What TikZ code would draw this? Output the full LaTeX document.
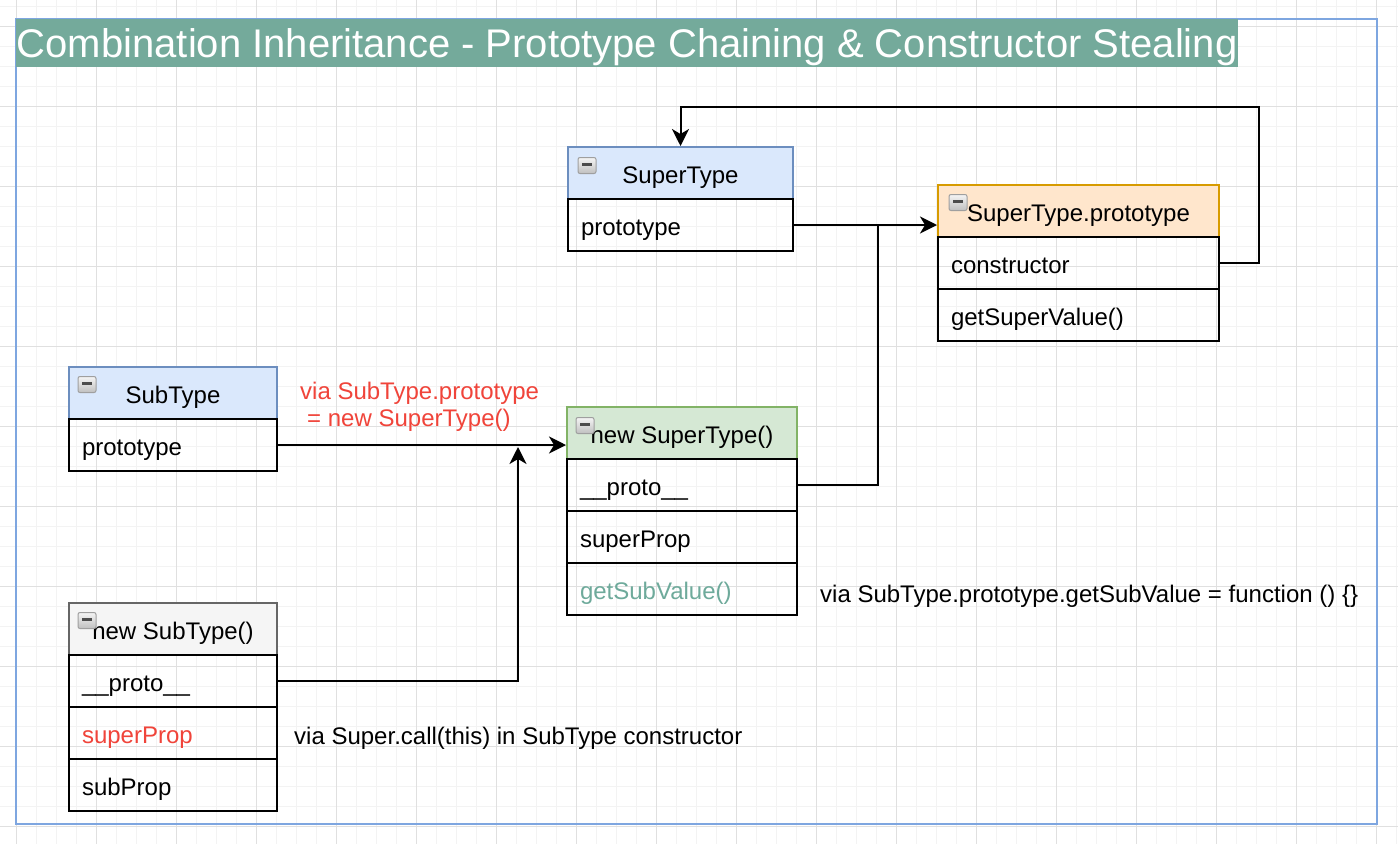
\documentclass[tikz,border=0pt]{standalone}
\usepackage{fontspec}
\setmainfont{Liberation Sans}
\usetikzlibrary{arrows.meta}
\definecolor{titlebg}{RGB}{116,170,155}
\definecolor{tealtxt}{RGB}{110,170,155}
\definecolor{redtxt}{RGB}{240,68,58}
\definecolor{frameblue}{RGB}{126,166,224}
\definecolor{gridminor}{RGB}{243,243,243}
\definecolor{gridmajor}{RGB}{224,224,224}
\definecolor{bluefill}{HTML}{DAE8FC}\definecolor{bluedraw}{HTML}{6C8EBF}
\definecolor{greenfill}{HTML}{D5E8D4}\definecolor{greendraw}{HTML}{82B366}
\definecolor{orangefill}{HTML}{FFE6CC}\definecolor{orangedraw}{HTML}{D79B00}
\definecolor{grayfill}{HTML}{F5F5F5}\definecolor{graydraw}{HTML}{666666}
\tikzset{
  base/.style={font=\fontsize{24}{28}\selectfont, text height=22pt, text depth=2pt},
  hdr/.style={base, rectangle, line width=2pt, minimum height=52pt, inner sep=0pt, align=center},
  rowbox/.style={base, rectangle, draw=black, line width=2pt, minimum height=52pt, inner xsep=13pt, inner ysep=0pt, align=left, text width=#1},
  icon/.style={rectangle, rounded corners=2pt, minimum width=18pt, minimum height=16pt, inner sep=0pt,
     draw=gray!75, line width=1pt, top color=gray!8, bottom color=gray!50,
     path picture={\draw[line width=3pt, black!70] ([xshift=-5pt,yshift=1pt]path picture bounding box.center) -- ([xshift=5pt,yshift=1pt]path picture bounding box.center);}},
  conn/.style={line width=2pt, draw=black},
  arr/.style={conn, -{Stealth[length=17pt,width=17pt,inset=5pt]}},
  lbl/.style={font=\fontsize{24}{27}\selectfont, inner sep=0pt}
}
\begin{document}
\begin{tikzpicture}[x=1pt,y=-1pt]
\useasboundingbox (0,0) rectangle (1398,844);
\fill[white] (0,0) rectangle (1398,844);
% grid
\foreach \x in {16,36,...,1396} \draw[gridminor, line width=1pt] (\x,0) -- (\x,844);
\foreach \y in {6,26,...,844} \draw[gridminor, line width=1pt] (0,\y) -- (1398,\y);
\foreach \x in {16,96,...,1396} \draw[gridmajor, line width=1pt] (\x,0) -- (\x,844);
\foreach \y in {26,106,...,844} \draw[gridmajor, line width=1pt] (0,\y) -- (1398,\y);
% frame
\draw[frameblue, line width=2pt] (16,19) rectangle (1377,824);
% title
\node[fill=titlebg, text=white, inner sep=0pt, minimum width=1222pt, minimum height=48pt,
      font=\fontsize{40}{48}\selectfont, text height=32pt, text depth=4pt, anchor=north west] (title) at (16,19)
  {Combination Inheritance - Prototype Chaining \& Constructor Stealing};

% SuperType
\node[hdr, fill=bluefill, draw=bluedraw, minimum width=225pt] (sth) at (680.5,173) {SuperType};
\node[rowbox=199pt] (stp) at (680.5,225) {prototype};
\node[icon] (sti) at (587,165.5) {};

% SuperType.prototype
\node[hdr, fill=orangefill, draw=orangedraw, minimum width=281pt] (sph) at (1078.5,211) {SuperType.prototype};
\node[rowbox=255pt] (spc) at (1078.5,263) {constructor};
\node[rowbox=255pt] (spg) at (1078.5,315) {getSuperValue()};
\node[icon] (spi) at (958,202.5) {};

% SubType
\node[hdr, fill=bluefill, draw=bluedraw, minimum width=208pt] (sbh) at (173,393) {SubType};
\node[rowbox=182pt] (sbp) at (173,445) {prototype};
\node[icon] (sbi) at (87,384.5) {};

% new SuperType()
\node[hdr, fill=greenfill, draw=greendraw, minimum width=230pt] (nsh) at (682,433) {new SuperType()};
\node[rowbox=204pt] (nsp) at (682,485) {\_\_proto\_\_};
\node[rowbox=204pt] (nss) at (682,537) {superProp};
\node[rowbox=204pt, text=tealtxt] (nsg) at (682,589) {getSubValue()};
\node[icon] (nsi) at (585,425.5) {};

% new SubType()
\node[hdr, fill=grayfill, draw=graydraw, minimum width=208pt] (nbh) at (173,629) {new SubType()};
\node[rowbox=182pt] (nbp) at (173,681) {\_\_proto\_\_};
\node[rowbox=182pt, text=redtxt] (nbs) at (173,733) {superProp};
\node[rowbox=182pt] (nbu) at (173,785) {subProp};
\node[icon] (nbi) at (87,620.5) {};

% labels
\node[lbl, text=redtxt, align=left, anchor=north west] (l1) at (300,381.5)
  {via SubType.prototype\\\hspace*{7pt}= new SuperType()};
\node[lbl, anchor=base west] (l2) at (820,602) {via SubType.prototype.getSubValue = function () \{\}};
\node[lbl, anchor=base west] (l3) at (294,744) {via Super.call(this) in SubType constructor};

% connectors
\coordinate (c1) at (1259,107);
\draw[arr] (spc.east) -| (c1) -| (sth.north);
\draw[arr] (stp.east) -- (sph.west |- stp.east);
\coordinate (c2) at (878,225);
\draw[conn] (nsp.east) -| (c2);
\draw[arr] (sbp.east) -- (nsh.west |- sbp.east);
\coordinate (c3) at (518,447);
\draw[arr] (nbp.east) -| (c3);
\end{tikzpicture}
\end{document}
